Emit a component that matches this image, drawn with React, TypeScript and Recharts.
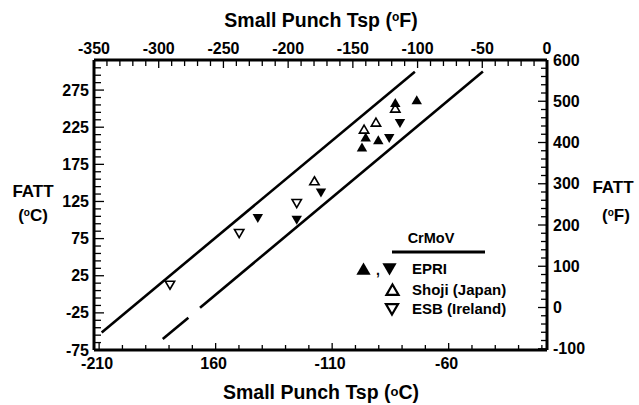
import React from 'react';
import { ScatterChart, Scatter, XAxis, YAxis, ReferenceLine } from 'recharts';

const W = 639;
const H = 405;
const FONT = '"Liberation Sans", Arial, Helvetica, sans-serif';

// ---- data (°C) ----
const epriUp = [
  { x: -97.2, y: 197.9 },
  { x: -95.6, y: 211.4 },
  { x: -90.2, y: 207.8 },
  { x: -82.9, y: 258.0 },
  { x: -73.7, y: 261.6 },
];
const epriDown = [
  { x: -141.9, y: 102.3 },
  { x: -125.2, y: 100.1 },
  { x: -114.8, y: 136.8 },
  { x: -85.5, y: 210.1 },
  { x: -80.9, y: 230.3 },
];
const shoji = [
  { x: -117.6, y: 152.6 },
  { x: -96.3, y: 222.2 },
  { x: -91.2, y: 231.6 },
  { x: -82.9, y: 250.5 },
];
const esb = [
  { x: -179.6, y: 12.5 },
  { x: -149.9, y: 82.1 },
  { x: -125.2, y: 122.5 },
];

// scatter band lines
const upperBand = [
  { x: -208.9, y: -51.4 },
  { x: -74.5, y: 299.7 },
];
const lowerBandA = [
  { x: -182.7, y: -60.2 },
  { x: -171.7, y: -31.5 },
];
const lowerBandB = [
  { x: -166.7, y: -18.1 },
  { x: -45.3, y: 300.0 },
];

// ---- axes ----
const xDomainC: [number, number] = [-212.2, -17.8];
const xDomainF: [number, number] = [-350, 0];
const yDomainC: [number, number] = [-75, 315.5];
const yDomainF: [number, number] = [-103, 600];
// corner anchors of the °F frame (invisible, keep the secondary axes alive)
const fFrame = [
  { x: -350, y: -103 },
  { x: 0, y: 600 },
];

const bottomMajor = [-210, -160, -110, -60];
const bottomLabels = ['-210', '160', '-110', '-60'];
const bottomTicks = Array.from({ length: 20 }, (_, i) => -210 + i * 10);

const topMajor = [-350, -300, -250, -200, -150, -100, -50, 0];
const topLabels = ['-350', '-300', '-250', '-200', '-150', '-100', '-50', '0'];
const topTicks = Array.from({ length: 36 }, (_, i) => -350 + i * 10);

const leftMajor = [-75, -25, 25, 75, 125, 175, 225, 275];
const leftLabels = ['-75', '-25', '25', '75', '125', '175', '225', '275'];
const leftTicks = Array.from({ length: 39 }, (_, i) => -75 + i * 10);

const rightMajor = [-100, 0, 100, 200, 300, 400, 500, 600];
const rightLabels = ['-100', '0', '100', '200', '300', '400', '500', '600'];
const rightTicks = Array.from({ length: 36 }, (_, i) => -100 + i * 20);

const labelFor = (v: number, major: number[], labels: string[]) => {
  const i = major.findIndex((m) => Math.abs(m - v) < 1e-6);
  return i >= 0 ? labels[i] : null;
};

const txt = { fontFamily: FONT, fontWeight: 700, fontSize: 16, fill: '#000' } as const;

const BottomTick = (p: any) => {
  const { x, y, payload } = p;
  const lab = labelFor(payload.value, bottomMajor, bottomLabels);
  return (
    <g>
      <line x1={x} x2={x} y1={y} y2={y - (lab ? 7 : 5)} stroke="#000" strokeWidth={1.3} />
      {lab && (
        <text x={x - 2} y={y + 13} dy="0.35em" textAnchor="middle" {...txt}>
          {lab}
        </text>
      )}
    </g>
  );
};

const TopTick = (p: any) => {
  const { x, y, payload } = p;
  const lab = labelFor(payload.value, topMajor, topLabels);
  return (
    <g>
      <line x1={x} x2={x} y1={y} y2={y + (lab ? 8 : 6)} stroke="#000" strokeWidth={1.3} />
      {lab && (
        <text x={x} y={y - 12} dy="0.35em" textAnchor="middle" {...txt}>
          {lab}
        </text>
      )}
    </g>
  );
};

const LeftTick = (p: any) => {
  const { x, y, payload } = p;
  const lab = labelFor(payload.value, leftMajor, leftLabels);
  return (
    <g>
      <line x1={x} x2={x + (lab ? 10 : 7)} y1={y} y2={y} stroke="#000" strokeWidth={1.3} />
      {lab && (
        <text x={x - 5} y={y} dy="0.35em" textAnchor="end" {...txt}>
          {lab}
        </text>
      )}
    </g>
  );
};

const RightTick = (p: any) => {
  const { x, y, payload } = p;
  const lab = labelFor(payload.value, rightMajor, rightLabels);
  return (
    <g>
      <line x1={x} x2={x - (lab ? 9 : 6)} y1={y} y2={y} stroke="#000" strokeWidth={1.3} />
      {lab && (
        <text x={x + 6} y={y} dy="0.35em" textAnchor="start" {...txt}>
          {lab}
        </text>
      )}
    </g>
  );
};

const triUp = (cx: number, cy: number, s: number) =>
  `M${cx},${cy - s * 0.5} L${cx + s * 0.55},${cy + s * 0.45} L${cx - s * 0.55},${cy + s * 0.45} Z`;
const triDown = (cx: number, cy: number, s: number) =>
  `M${cx},${cy + s * 0.5} L${cx + s * 0.55},${cy - s * 0.45} L${cx - s * 0.55},${cy - s * 0.45} Z`;

const FilledUp = (p: any) => <path d={triUp(p.cx, p.cy, 9.5)} fill="#000" />;
const FilledDown = (p: any) => <path d={triDown(p.cx, p.cy, 9.5)} fill="#000" />;
const OpenUp = (p: any) => <path d={triUp(p.cx, p.cy, 8.5)} fill="#fff" stroke="#000" strokeWidth={1.6} />;
const OpenDown = (p: any) => <path d={triDown(p.cx, p.cy, 8.5)} fill="#fff" stroke="#000" strokeWidth={1.6} />;
const Nothing = () => <g />;

const axisLine = { stroke: '#000', strokeWidth: 3 };

export default function App() {
  return (
    <div style={{ position: 'absolute', left: 0, top: 0, width: W, height: H, background: '#fff' }}>
      <ScatterChart width={W} height={H} margin={{ top: 0, right: 0, bottom: 0, left: 0 }}>
        <XAxis
          xAxisId="c"
          type="number"
          dataKey="x"
          orientation="bottom"
          domain={xDomainC}
          allowDataOverflow
          ticks={bottomTicks}
          interval={0}
          height={55}
          tickSize={0}
          tickMargin={0}
          tickLine={false}
          axisLine={axisLine}
          tick={(p: any) => <BottomTick {...p} />}
        />
        <XAxis
          xAxisId="f"
          type="number"
          dataKey="x"
          orientation="top"
          domain={xDomainF}
          allowDataOverflow
          ticks={topTicks}
          interval={0}
          height={60}
          tickSize={0}
          tickMargin={0}
          tickLine={false}
          axisLine={axisLine}
          tick={(p: any) => <TopTick {...p} />}
        />
        <YAxis
          yAxisId="c"
          type="number"
          dataKey="y"
          orientation="left"
          domain={yDomainC}
          allowDataOverflow
          ticks={leftTicks}
          interval={0}
          width={94}
          tickSize={0}
          tickMargin={0}
          tickLine={false}
          axisLine={axisLine}
          tick={(p: any) => <LeftTick {...p} />}
        />
        <YAxis
          yAxisId="f"
          type="number"
          dataKey="y"
          orientation="right"
          domain={yDomainF}
          allowDataOverflow
          ticks={rightTicks}
          interval={0}
          width={92}
          tickSize={0}
          tickMargin={0}
          tickLine={false}
          axisLine={axisLine}
          tick={(p: any) => <RightTick {...p} />}
        />
        <Scatter xAxisId="f" yAxisId="f" data={fFrame} shape={(p: any) => <Nothing {...p} />} isAnimationActive={false} />
        <ReferenceLine xAxisId="c" yAxisId="c" segment={upperBand} stroke="#000" strokeWidth={2.6} ifOverflow="visible" />
        <ReferenceLine xAxisId="c" yAxisId="c" segment={lowerBandA} stroke="#000" strokeWidth={2.6} ifOverflow="visible" />
        <ReferenceLine xAxisId="c" yAxisId="c" segment={lowerBandB} stroke="#000" strokeWidth={2.6} ifOverflow="visible" />
        <Scatter xAxisId="c" yAxisId="c" data={esb} shape={(p: any) => <OpenDown {...p} />} isAnimationActive={false} />
        <Scatter xAxisId="c" yAxisId="c" data={shoji} shape={(p: any) => <OpenUp {...p} />} isAnimationActive={false} />
        <Scatter xAxisId="c" yAxisId="c" data={epriDown} shape={(p: any) => <FilledDown {...p} />} isAnimationActive={false} />
        <Scatter xAxisId="c" yAxisId="c" data={epriUp} shape={(p: any) => <FilledUp {...p} />} isAnimationActive={false} />
      </ScatterChart>
      <svg
        width={W}
        height={H}
        style={{ position: 'absolute', left: 0, top: 0, pointerEvents: 'none' }}
      >
        <text x={321} y={20} dy="0.35em" textAnchor="middle" fontFamily={FONT} fontWeight={700} fontSize={19.5}>
          Small Punch Tsp (<tspan fontSize={12} dy={-6}>o</tspan>
          <tspan dy={6}>F)</tspan>
        </text>
        <text x={321} y={392} dy="0.35em" textAnchor="middle" fontFamily={FONT} fontWeight={700} fontSize={19.5}>
          Small Punch Tsp (<tspan fontSize={13} dy={-3}>o</tspan>
          <tspan dy={3}>C)</tspan>
        </text>
        <text x={33} y={191} dy="0.35em" textAnchor="middle" fontFamily={FONT} fontWeight={700} fontSize={17}>
          FATT
        </text>
        <text x={33} y={215} dy="0.35em" textAnchor="middle" fontFamily={FONT} fontWeight={700} fontSize={17}>
          (<tspan fontSize={10} dy={-5}>o</tspan>
          <tspan dy={5}>C)</tspan>
        </text>
        <text x={613} y={187} dy="0.35em" textAnchor="middle" fontFamily={FONT} fontWeight={700} fontSize={17}>
          FATT
        </text>
        <text x={616} y={215} dy="0.35em" textAnchor="middle" fontFamily={FONT} fontWeight={700} fontSize={17}>
          (<tspan fontSize={10} dy={-5}>o</tspan>
          <tspan dy={5}>F)</tspan>
        </text>
        {/* legend */}
        <text x={431} y={238} dy="0.35em" textAnchor="middle" fontFamily={FONT} fontWeight={700} fontSize={14.5}>
          CrMoV
        </text>
        <line x1={392} x2={485} y1={252} y2={252} stroke="#000" strokeWidth={3} />
        <path d={triUp(363.5, 269, 13)} fill="#000" />
        <text x={378} y={270} dy="0.35em" textAnchor="middle" fontFamily={FONT} fontWeight={700} fontSize={14}>
          ,
        </text>
        <path d={triDown(389.5, 269, 13)} fill="#000" />
        <text x={412} y={269} dy="0.35em" fontFamily={FONT} fontWeight={700} fontSize={15}>
          EPRI
        </text>
        <path d={triUp(392.5, 290, 11)} fill="#fff" stroke="#000" strokeWidth={2.2} />
        <text x={412} y={290} dy="0.35em" fontFamily={FONT} fontWeight={700} fontSize={15}>
          Shoji (Japan)
        </text>
        <path d={triDown(392, 309, 11)} fill="#fff" stroke="#000" strokeWidth={2.2} />
        <text x={412} y={309} dy="0.35em" fontFamily={FONT} fontWeight={700} fontSize={15}>
          ESB (Ireland)
        </text>
      </svg>
    </div>
  );
}
